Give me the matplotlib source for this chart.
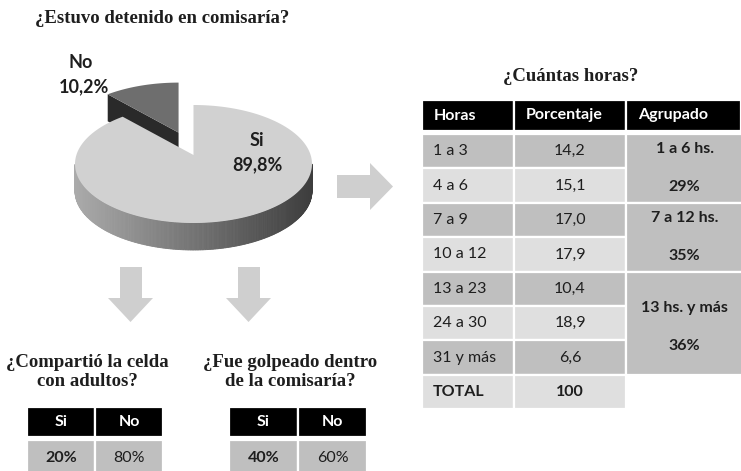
import numpy as np
import matplotlib
matplotlib.use("Agg")
import matplotlib.pyplot as plt
from matplotlib.patches import Polygon, Rectangle

# ---------------- data ----------------
pie_labels = ["Si", "No"]
pie_values = [89.8, 10.2]

hours_labels = ["1 a 3", "4 a 6", "7 a 9", "10 a 12", "13 a 23", "24 a 30", "31 y más"]
hours_pct = [14.2, 15.1, 17.0, 17.9, 10.4, 18.9, 6.6]
total_label = "TOTAL"
total_value = 100
group_labels = ["1 a 6 hs.", "7 a 12 hs.", "13 hs. y más"]
group_pct = [29, 35, 36]
group_rows = [2, 2, 3]
table_header = ["Horas", "Porcentaje", "Agrupado"]

shared_cats = ["Si", "No"]
shared_vals = [20, 80]
beaten_cats = ["Si", "No"]
beaten_vals = [40, 60]

# ---------------- figure ----------------
W, H = 741, 471
fig = plt.figure(figsize=(W / 100, H / 100), dpi=100)
ax = fig.add_axes([0, 0, 1, 1])
ax.set_xlim(0, W)
ax.set_ylim(H, 0)
ax.axis("off")

SERIF = "Liberation Serif"
SANS = "Lato"
TXT = "#1e1e1e"

def fmt(v, d=1):
    return f"{v:.{d}f}".replace(".", ",")

# ---------------- titles ----------------
ax.text(35, 23, "¿Estuvo detenido en comisaría?", family=SERIF, weight="bold",
        fontsize=13.5, color=TXT, va="baseline", ha="left")
ax.text(571, 81, "¿Cuántas horas?", family=SERIF, weight="bold",
        fontsize=13.5, color=TXT, va="baseline", ha="center")
ax.text(87, 367, "¿Compartió la celda", family=SERIF, weight="bold",
        fontsize=13.5, color=TXT, va="baseline", ha="center")
ax.text(87, 386, "con adultos?", family=SERIF, weight="bold",
        fontsize=13.5, color=TXT, va="baseline", ha="center")
ax.text(290, 367, "¿Fue golpeado dentro", family=SERIF, weight="bold",
        fontsize=13.5, color=TXT, va="baseline", ha="center")
ax.text(290, 386, "de la comisaría?", family=SERIF, weight="bold",
        fontsize=13.5, color=TXT, va="baseline", ha="center")

# ---------------- 3D pie ----------------
cx, cy, a, b, depth = 193.5, 164.0, 118.5, 59.0, 27.0
apex_dy = -9.0
explode = [0.0, 0.4]
top_cols = ["#d1d1d1", "#6e6e6e"]
face_col = "#2a2a2a"
light = np.array([0.67, 0.67, 0.67])
dark = np.array([0.24, 0.24, 0.24])

total = float(sum(pie_values))
angles = []
th = 90.0
for v in pie_values:
    th2 = th - 360.0 * v / total
    angles.append((th2, th))
    th = th2

def pt(theta, off):
    r = np.deg2rad(theta)
    return np.array([cx + a * np.cos(r) + off[0], cy - b * np.sin(r) + off[1]])

offsets = []
for (t0, t1), e in zip(angles, explode):
    mid = np.deg2rad((t0 + t1) / 2)
    offsets.append((e * a * np.cos(mid), -e * b * np.sin(mid)))

# draw exploded small slice first, then the big one
order = [1, 0]
for i in order:
    t0, t1 = angles[i]
    off = offsets[i]
    apex = np.array([cx + off[0], cy + apex_dy + off[1]])
    # radial cut face of the exploded slice (its left edge faces the viewer)
    if explode[i] > 0:
        edge = t1 if np.cos(np.deg2rad(t1)) < np.cos(np.deg2rad(t0)) else t0
        outer = pt(edge, off)
        face = [outer, apex, apex + [0, depth], outer + [0, depth]]
        ax.add_patch(Polygon(face, closed=True, fc=face_col, ec="none", zorder=2))
    # outer rim (front half only)
    ts = np.linspace(t0, t1, 400)
    for k in range(len(ts) - 1):
        tm = 0.5 * (ts[k] + ts[k + 1])
        if np.sin(np.deg2rad(tm)) < 0:
            p0, p1 = pt(ts[k], off), pt(ts[k + 1], off)
            xm = 0.5 * (p0[0] + p1[0])
            tt = np.clip((xm - (cx - a)) / (2 * a), 0, 1)
            col = light * (1 - tt) + dark * tt
            ax.add_patch(Polygon([p0, p1, p1 + [0, depth], p0 + [0, depth]],
                                 closed=True, fc=col, ec=col, lw=0.6, zorder=3))
    # top face
    arc = [pt(t, off) for t in np.linspace(t0, t1, 300)]
    ax.add_patch(Polygon([apex] + arc, closed=True, fc=top_cols[i], ec="none", zorder=4))

# pie labels
lab_kw = dict(family=SANS, weight="bold", fontsize=13, color=TXT, ha="center",
              va="center", zorder=6)
ax.text(257, 140, pie_labels[0], **lab_kw)
ax.text(257, 165, fmt(pie_values[0]) + "%", **lab_kw)
ax.text(81, 62, pie_labels[1], **lab_kw)
ax.text(84, 87, fmt(pie_values[1]) + "%", **lab_kw)

# ---------------- arrows ----------------
ARROW = "#cfcfcf"
ax.add_patch(Polygon([(337, 175), (370, 175), (370, 163), (393, 186.5), (370, 210),
                      (370, 198), (337, 198)], closed=True, fc=ARROW, ec="none"))
for dx in (0, 118):
    ax.add_patch(Polygon([(120 + dx, 267), (142 + dx, 267), (142 + dx, 298), (153 + dx, 298),
                          (130.5 + dx, 322), (108 + dx, 298), (120 + dx, 298)],
                         closed=True, fc=ARROW, ec="none"))

# ---------------- big table ----------------
DARKROW = "#bfbfbf"
LIGHTROW = "#dfdfdf"
col_x = [422, 514, 626, 741]
hdr_top, hdr_bot = 100, 131
row_top = 134
row_h = 34.4
FS = 11.5

def cell(x0, y0, x1, y1, fc):
    ax.add_patch(Rectangle((x0, y0), x1 - x0, y1 - y0, fc=fc, ec="white", lw=1.6, zorder=2))

for j, hname in enumerate(table_header):
    cell(col_x[j], hdr_top, col_x[j + 1], hdr_bot, "black")
    ax.text(col_x[j] + 12, (hdr_top + hdr_bot) / 2, hname, family=SANS, weight="bold",
            fontsize=FS, color="white", ha="left", va="center", zorder=5)

for r, (lab, v) in enumerate(zip(hours_labels, hours_pct)):
    y0 = row_top + r * row_h
    y1 = y0 + row_h
    fc = DARKROW if r % 2 == 0 else LIGHTROW
    cell(col_x[0], y0, col_x[1], y1, fc)
    cell(col_x[1], y0, col_x[2], y1, fc)
    ax.text(col_x[0] + 11, (y0 + y1) / 2, lab, family=SANS, fontsize=FS, color=TXT,
            ha="left", va="center", zorder=5)
    ax.text((col_x[1] + col_x[2]) / 2, (y0 + y1) / 2, fmt(v), family=SANS, fontsize=FS,
            color=TXT, ha="center", va="center", zorder=5)

# total row
y0 = row_top + len(hours_labels) * row_h
y1 = y0 + row_h
cell(col_x[0], y0, col_x[1], y1, LIGHTROW)
cell(col_x[1], y0, col_x[2], y1, LIGHTROW)
ax.text(col_x[0] + 11, (y0 + y1) / 2, total_label, family=SANS, weight="bold", fontsize=FS,
        color=TXT, ha="left", va="center", zorder=5)
ax.text((col_x[1] + col_x[2]) / 2, (y0 + y1) / 2, str(total_value), family=SANS,
        weight="bold", fontsize=FS, color=TXT, ha="center", va="center", zorder=5)

# grouped column
start = 0
for glab, gp, n in zip(group_labels, group_pct, group_rows):
    y0 = row_top + start * row_h
    y1 = row_top + (start + n) * row_h
    cell(col_x[2], y0, col_x[3] + 5, y1, DARKROW)
    yc = (y0 + y1) / 2 + (4 if n > 2 else 0)
    xc = (col_x[2] + col_x[3]) / 2 + 1
    ax.text(xc, yc - 19, glab, family=SANS, weight="bold", fontsize=FS, color=TXT,
            ha="center", va="center", zorder=5)
    ax.text(xc, yc + 19, f"{gp}%", family=SANS, weight="bold", fontsize=FS, color=TXT,
            ha="center", va="center", zorder=5)
    start += n

# ---------------- small tables ----------------
def small_table(x0, xm, x1, cats, vals):
    ht, hb = 407, 437
    dt, db = 440, 476
    xs = [x0, xm, x1]
    for j, (c, v) in enumerate(zip(cats, vals)):
        cell(xs[j], ht, xs[j + 1], hb, "black")
        ax.text((xs[j] + xs[j + 1]) / 2, (ht + hb) / 2, c, family=SANS, weight="bold",
                fontsize=FS, color="white", ha="center", va="center", zorder=5)
        cell(xs[j], dt, xs[j + 1], db, DARKROW)
        ax.text((xs[j] + xs[j + 1]) / 2, 458, f"{v}%", family=SANS,
                weight="bold" if j == 0 else "normal", fontsize=FS, color=TXT,
                ha="center", va="center", zorder=5)

small_table(27, 95, 163, shared_cats, shared_vals)
small_table(229, 298, 367, beaten_cats, beaten_vals)

fig.savefig("out.png", dpi=100, facecolor="white")
